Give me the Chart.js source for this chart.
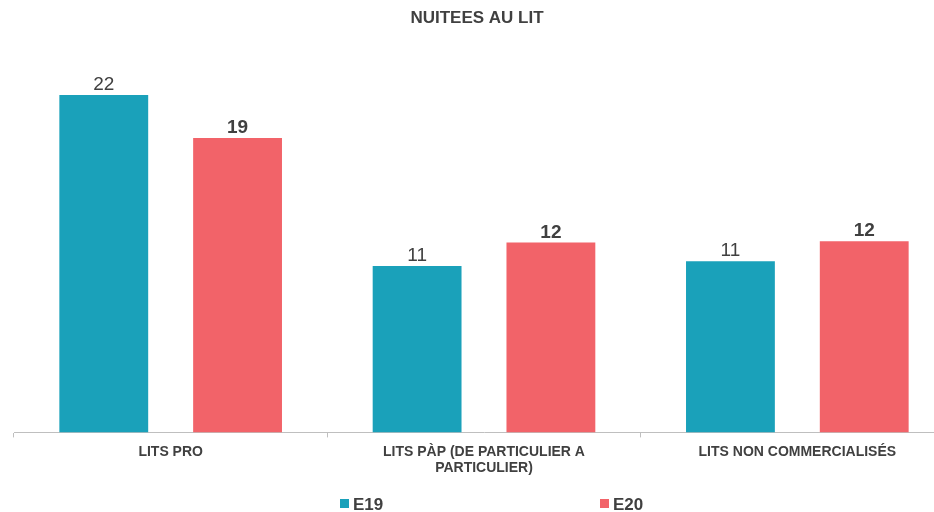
<!DOCTYPE html>
<html>
<head>
<meta charset="utf-8">
<script src="https://cdn.jsdelivr.net/npm/chart.js@4"></script>
<style>
  html, body { margin: 0; padding: 0; background: #fff; overflow: hidden; }
  #wrap { width: 954px; height: 512px; }
</style>
</head>
<body>
<div id="wrap"><canvas id="nuiteesChart" width="954" height="512"></canvas></div>
<script>
// --- data ---
const categories = ['LITS PRO', ['LITS PÀP (DE PARTICULIER A', 'PARTICULIER)'], 'LITS NON COMMERCIALISÉS'];
const seriesNames = ['E19', 'E20'];
const e19Values = [22.0, 10.85, 11.16];
const e20Values = [19.2, 12.38, 12.47];
const seriesColors = ['#1aa1ba', '#f26369'];
const chartTitle = 'NUITEES AU LIT';

const textColor = '#404040';
const fontFamily = '"Liberation Sans", Arial, sans-serif';

// labels above the bars + title + legend
const decorPlugin = {
    id: 'decor',
    afterDatasetsDraw(chart) {
        const ctx = chart.ctx;
        ctx.save();
        ctx.fillStyle = textColor;
        ctx.textAlign = 'center';
        ctx.textBaseline = 'alphabetic';
        chart.data.datasets.forEach(function(ds, i) {
            const meta = chart.getDatasetMeta(i);
            ctx.font = (i === 1 ? 'bold ' : '') + '19px ' + fontFamily;
            meta.data.forEach(function(bar, j) {
                ctx.fillText(Math.round(ds.data[j]), bar.x, bar.y - 5);
            });
        });

        // title
        ctx.font = 'bold 17px ' + fontFamily;
        ctx.fillText(chartTitle, chart.width / 2, 23);

        // legend
        const offsets = [-137, 123];
        ctx.textAlign = 'left';
        ctx.font = 'bold 17px ' + fontFamily;
        chart.data.datasets.forEach(function(ds, i) {
            const x = chart.width / 2 + offsets[i];
            ctx.fillStyle = ds.backgroundColor;
            ctx.fillRect(x, 499, 9, 9);
            ctx.fillStyle = textColor;
            ctx.fillText(ds.label, x + 13, 510);
        });
        ctx.restore();
    }
};

document.addEventListener('DOMContentLoaded', function() {
    const canvas = document.getElementById('nuiteesChart');
    new Chart(canvas, {
        type: 'bar',
        data: {
            labels: categories,
            datasets: [{
                label: seriesNames[0],
                data: e19Values,
                backgroundColor: seriesColors[0],
                categoryPercentage: 0.854,
                barPercentage: 0.664
            }, {
                label: seriesNames[1],
                data: e20Values,
                backgroundColor: seriesColors[1],
                categoryPercentage: 0.854,
                barPercentage: 0.664
            }]
        },
        options: {
            responsive: false,
            animation: false,
            layout: { padding: { top: 49, left: 14, right: 0, bottom: 29 } },
            plugins: {
                legend: { display: false },
                title: { display: false },
                tooltip: { enabled: false }
            },
            scales: {
                x: {
                    grid: { drawOnChartArea: false, tickLength: 5, color: '#bfbfbf' },
                    border: { color: '#bfbfbf' },
                    ticks: {
                        color: textColor,
                        maxRotation: 0,
                        padding: 6,
                        font: { family: fontFamily, size: 14, weight: 'bold' }
                    }
                },
                y: {
                    display: false,
                    min: 0,
                    max: 25
                }
            }
        },
        plugins: [decorPlugin]
    });
});
</script>
</body>
</html>
